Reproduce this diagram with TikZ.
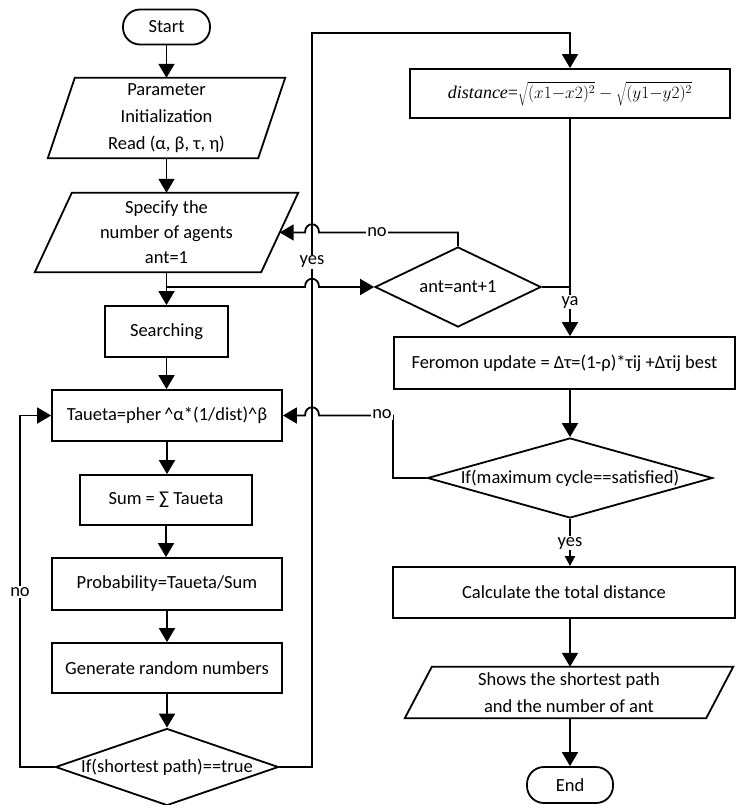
\documentclass[tikz,border=0pt]{standalone}
\usepackage{fontspec}
\setmainfont{Carlito}
\newfontfamily\serifx{Liberation Serif}
\usetikzlibrary{arrows.meta,shapes.geometric,calc}
\begin{document}
\begin{tikzpicture}[x=1pt,y=-1pt,
  font=\fontsize{18.5}{25}\selectfont,
  ln/.style={line width=1.8pt},
  arr/.style={ln,-{Triangle[length=14pt,width=16pt]}},
  sarr/.style={ln,-{Triangle[length=10pt,width=10pt]}},
  box/.style={draw,line width=1.8pt,rectangle,inner sep=0pt,align=center},
  term/.style={box,rounded corners=17pt},
  para/.style={rectangle,inner sep=0pt,align=center},
  shp/.style={draw,line width=1.8pt},
  dia/.style={draw,line width=1.8pt,diamond,inner sep=0pt},
  lbl/.style={fill=white,inner sep=1pt}]
\useasboundingbox[fill=white] (0,0) rectangle (736,805);

% ---- left column
\node[term, minimum width=87pt, minimum height=35pt] (start) at (166.5,27) {Start};
\node[para, minimum width=237pt, minimum height=80pt, font=\fontsize{18.5}{27}\selectfont] (param) at (166.5,118) {Parameter\\Initialization\\Read (α, β, τ, η)};
\draw[shp] ([xshift=27pt]param.north west) -- (param.north east) -- ([xshift=-27pt]param.south east) -- (param.south west) -- cycle;
\node[para, minimum width=263pt, minimum height=79pt] (spec) at (166.5,232.5) {Specify the\\number of agents\\ant=1};
\draw[shp] ([xshift=37pt]spec.north west) -- (spec.north east) -- ([xshift=-37pt]spec.south east) -- (spec.south west) -- cycle;
\node[box, minimum width=123pt, minimum height=51pt] (search) at (166.5,331.5) {Searching};
\node[box, minimum width=230pt, minimum height=51pt] (taueta) at (167,415.5) {Taueta=pher\,\textasciicircum α*(1/dist)\textasciicircum β};
\node[box, minimum width=172pt, minimum height=50pt] (sum) at (166,500) {Sum = ∑ Taueta};
\node[box, minimum width=230pt, minimum height=52pt] (prob) at (167,584) {Probability=Taueta/Sum};
\node[box, minimum width=230pt, minimum height=50pt] (gen) at (167,668) {Generate random numbers};
\node[dia, minimum width=223pt, minimum height=77pt, label={[name=shortT]center:If(shortest path)==true}] (short) at (167,767) {};

% ---- right column
\node[box, minimum width=320pt, minimum height=49pt, font=\fontsize{18}{21}\selectfont\serifx] (dist) at (570,93.5) {\textit{distance}=$\sqrt{(x1{-}x2)^2}-\sqrt{(y1{-}y2)^2}$};
\node[dia, minimum width=166pt, minimum height=80pt, label={[name=antT]center:ant=ant+1}] (ant) at (458,287) {};
\node[box, minimum width=341pt, minimum height=52pt] (fer) at (564.5,363) {Feromon update = Δτ=(1-ρ)*τij +Δτij best};
\node[dia, minimum width=285pt, minimum height=80pt, label={[name=maxT]center:If(maximum cycle==satisfied)}] (maxc) at (570,478) {};
\node[box, minimum width=342pt, minimum height=51pt] (calc) at (564,592.5) {Calculate the total distance};
\node[para, minimum width=328pt, minimum height=51pt, font=\fontsize{18.5}{27}\selectfont] (shows) at (569,692.5) {Shows the shortest path\\and the number of ant};
\draw[shp] ([xshift=27pt]shows.north west) -- (shows.north east) -- ([xshift=-27pt]shows.south east) -- (shows.south west) -- cycle;
\node[term, minimum width=86pt, minimum height=36pt] (endn) at (570,785) {End};

% ---- helper coordinates
\coordinate (vx) at (312,0);
\coordinate (lft) at (20,415.5);
\coordinate (top) at (312,33);
\coordinate (mc) at (393,415.5);
\coordinate (j1) at (vx |- ant.west);
\coordinate (j2) at (vx |- spec.east);
\coordinate (j3) at (vx |- taueta.east);

% ---- left connectors
\draw[arr] (start.south) -- (start.south |- param.north);
\draw[arr] (param.south) -- (param.south |- spec.north);
\draw[arr] (spec.south) -- (spec.south |- search.north);
\draw[arr] (spec.south |- ant.west) -- ($(j1)+(-7,0)$) .. controls ($(j1)+(-7,-11)$) and ($(j1)+(7,-11)$) .. ($(j1)+(7,0)$) -- (ant.west);
\draw[arr] (search.south) -- (search.south |- taueta.north);
\draw[arr] (taueta.south) -- (taueta.south |- sum.north);
\draw[arr] (sum.south) -- (sum.south |- prob.north);
\draw[arr] (prob.south) -- (prob.south |- gen.north);
\draw[arr] (gen.south) -- (gen.south |- short.north);
\draw[arr] (short.west) -| (lft) -- (taueta.west);
\node[lbl] (no1) at (20,592) {no};
\draw[arr] (short.east) -| (top) -| (dist.north);
\node[lbl] (yes1) at (312,262) {yes};

% ---- right connectors
\draw[arr] (ant.north) -- (ant.north |- spec.east) -- ($(j2)+(7,0)$) .. controls ($(j2)+(7,-11)$) and ($(j2)+(-7,-11)$) .. ($(j2)+(-7,0)$) -- ([xshift=-18.5pt]spec.east);
\node[lbl] (no2) at (377,232.5) {no};
\draw[ln] (ant.east) -- (dist.south |- ant.east);
\draw[arr] (dist.south) -- (dist.south |- fer.north);
\node[lbl] (ya) at (570,302) {ya};
\draw[arr] (maxc.north |- fer.south) -- (maxc.north);
\draw[arr] (maxc.west) -| (mc) -- ($(j3)+(7,0)$) .. controls ($(j3)+(7,-11)$) and ($(j3)+(-7,-11)$) .. ($(j3)+(-7,0)$) -- (taueta.east);
\node[lbl] (no3) at (382,414) {no};
\draw[sarr] (maxc.south) -- (maxc.south |- calc.north);
\node[lbl] (yes2) at (570,543) {yes};
\draw[arr] (maxc.south |- calc.south) -- (maxc.south |- shows.north);
\draw[arr] (endn.north |- shows.south) -- (endn.north);
\end{tikzpicture}
\end{document}
